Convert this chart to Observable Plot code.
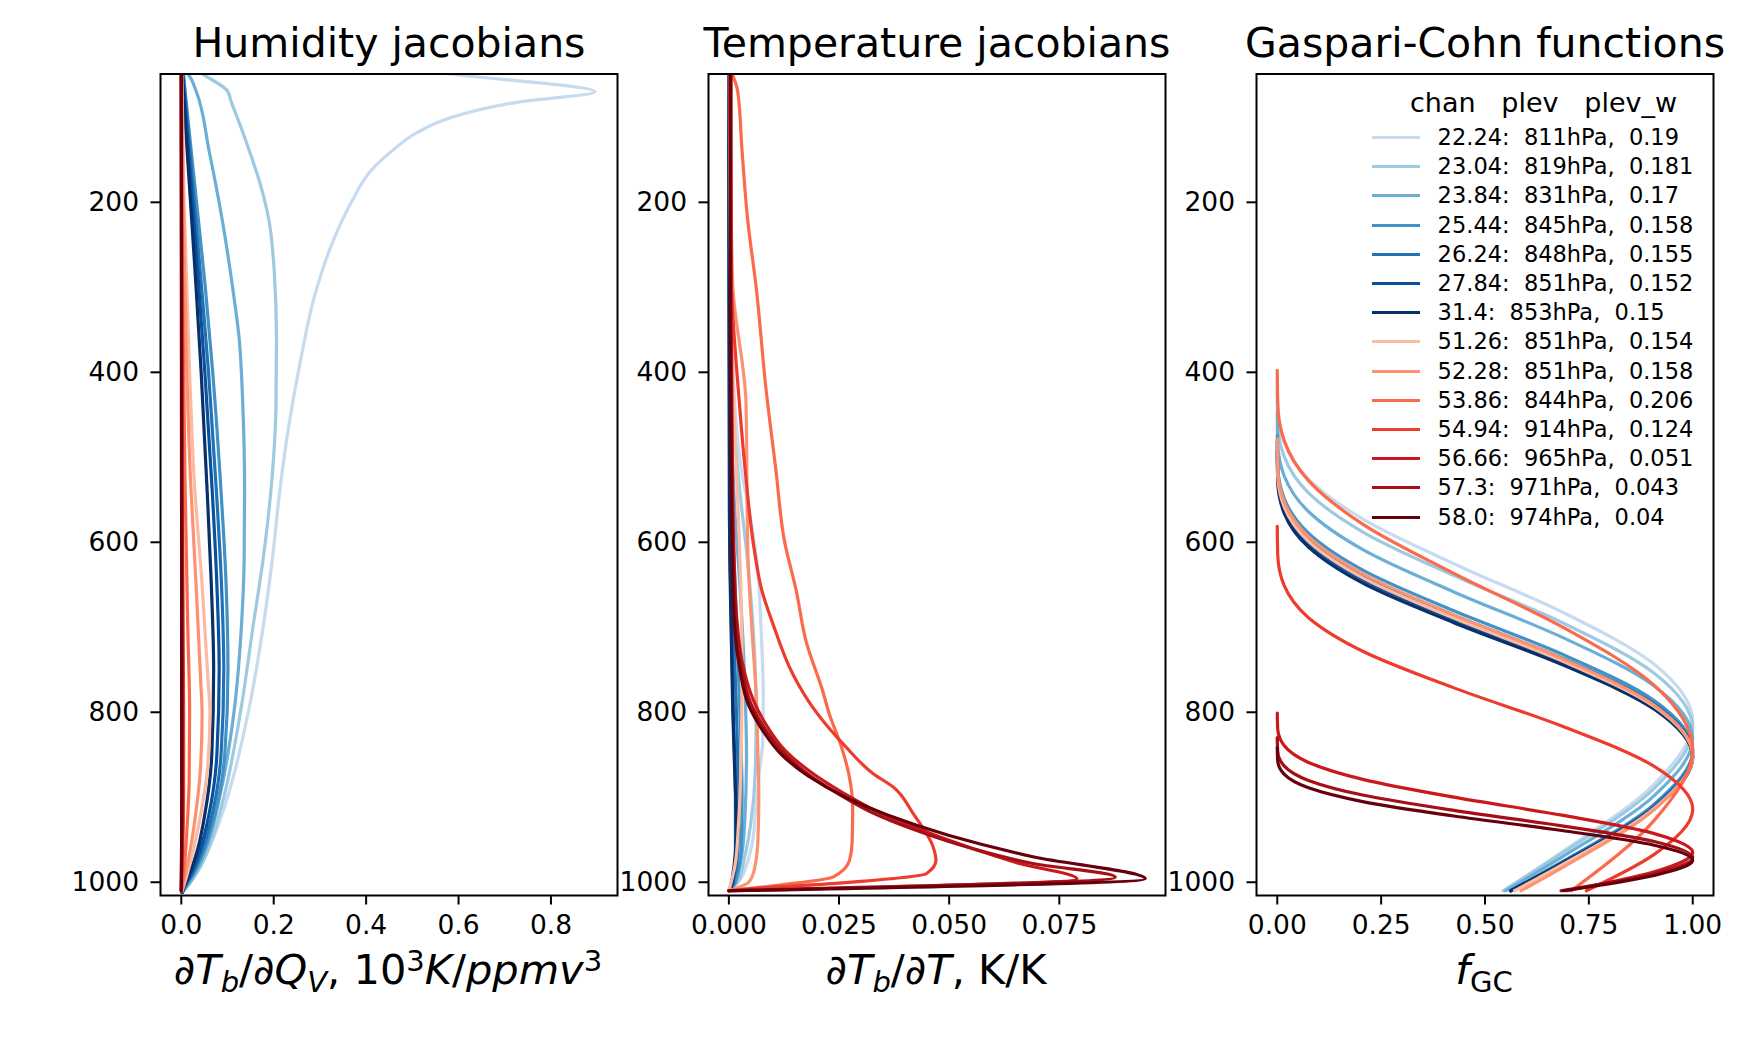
<!DOCTYPE html>
<html>
<head>
<meta charset="utf-8">
<script src="https://cdn.jsdelivr.net/npm/d3@7"></script>
<script src="https://cdn.jsdelivr.net/npm/@observablehq/plot@0.6"></script>
<style>
  html, body { margin: 0; padding: 0; background: #fff; }
  #root { position: relative; width: 1755px; height: 1037px; overflow: hidden; font-family: "DejaVu Sans", sans-serif; color: #000; }
  .panel { position: absolute; top: 0; }
  .xlabel { position: absolute; font-size: 41.5px; line-height: 1; white-space: nowrap; transform: translateX(-50%); }
  .xlabel .sub { font-size: 0.7em; position: relative; top: 0.28em; }
  .xlabel .sup { font-size: 0.7em; position: relative; top: -0.45em; }
  .legend-title { position: absolute; font-size: 27px; line-height: 1; white-space: pre; }
  .legend-row { position: absolute; height: 22px; line-height: 22px; font-size: 22.5px; white-space: pre; }
  .legend-row .sw { position: absolute; left: 0; top: 10px; width: 48px; height: 3px; }
  .legend-row .tx { position: absolute; left: 65.6px; top: 0; }
</style>
</head>
<body>
<div id="root"></div>
<script>
// ---------- data ----------
const channels = ["22.24","23.04","23.84","25.44","26.24","27.84","31.4","51.26","52.28","53.86","54.94","56.66","57.3","58.0"];
const plevHpa = [811, 819, 831, 845, 848, 851, 853, 851, 851, 844, 914, 965, 971, 974];
const plevWidth = ["0.19","0.181","0.17","0.158","0.155","0.152","0.15","0.154","0.158","0.206","0.124","0.051","0.043","0.04"];
const channelColors = ["#c6dbef","#9ecae1","#6baed6","#4292c6","#2171b5","#08519c","#08306b",
                       "#fcbba1","#fc9272","#fb6a4a","#ef3b2c","#cb181d","#a50f15","#67000d"];

const panelTitles = ["Humidity jacobians", "Temperature jacobians", "Gaspari-Cohn functions"];
const pressureTicks = [200, 400, 600, 800, 1000];
const humidityTicks = [0, 0.2, 0.4, 0.6, 0.8];
const temperatureTicks = [0, 0.025, 0.05, 0.075];
const gcTicks = [0, 0.25, 0.5, 0.75, 1];

// humidity jacobians: [pressure hPa, dTb/dQv]
const humidityJacobians = [
  [[40,0.443],[49,0.58],[70,0.895],[82,0.73],[100,0.585],[118,0.51],[140,0.455],[163,0.41],[200,0.368],[237,0.335],[307,0.29],[386,0.258],[465,0.232],[540,0.213],[620,0.197],[700,0.177],[800,0.145],[900,0.1],[950,0.068],[980,0.043],[1000,0.02],[1012,0.002]],
  [[40,0.022],[49,0.046],[69,0.10],[80,0.107],[110,0.128],[139,0.147],[175,0.169],[222,0.19],[280,0.201],[360,0.206],[437,0.205],[539,0.194],[620,0.177],[700,0.155],[800,0.128],[900,0.092],[950,0.066],[980,0.043],[1000,0.02],[1012,0.002]],
  [[45,0.008],[51,0.017],[69,0.032],[139,0.06],[222,0.089],[300,0.111],[359,0.125],[437,0.133],[539,0.137],[620,0.136],[700,0.13],[800,0.114],[900,0.083],[950,0.06],[980,0.039],[1000,0.018],[1012,0.002]],
  [[45,0.004],[100,0.014],[200,0.033],[300,0.052],[400,0.068],[540,0.086],[650,0.097],[750,0.101],[850,0.094],[920,0.073],[960,0.051],[990,0.026],[1005,0.009],[1012,0.002]],
  [[45,0.003],[100,0.012],[200,0.028],[300,0.044],[400,0.059],[540,0.076],[650,0.087],[750,0.092],[850,0.086],[920,0.067],[960,0.047],[990,0.024],[1005,0.008],[1012,0.002]],
  [[45,0.002],[100,0.01],[200,0.024],[300,0.038],[400,0.051],[540,0.067],[650,0.077],[750,0.082],[850,0.077],[920,0.06],[960,0.042],[990,0.021],[1005,0.007],[1012,0.002]],
  [[45,0.002],[100,0.008],[200,0.02],[300,0.032],[400,0.043],[540,0.056],[650,0.065],[750,0.07],[850,0.066],[920,0.051],[960,0.036],[990,0.018],[1005,0.006],[1012,0.001]],
  [[45,0.001],[200,0.006],[400,0.018],[527,0.028],[650,0.045],[763,0.058],[802,0.062],[870,0.056],[920,0.042],[960,0.027],[990,0.013],[1010,0.002]],
  [[45,0],[200,0.004],[400,0.012],[527,0.02],[650,0.032],[763,0.042],[802,0.045],[870,0.041],[920,0.031],[960,0.02],[990,0.009],[1010,0.001]],
  [[45,0],[300,0.003],[527,0.008],[700,0.014],[800,0.018],[880,0.017],[940,0.012],[990,0.005],[1010,0]],
  [[45,0],[527,0.002],[800,0.005],[900,0.005],[980,0.002],[1010,0]],
  [[45,0],[800,0.002],[900,0.002],[1010,0]],
  [[45,0],[800,0.001],[900,0.0015],[1010,0]],
  [[45,0],[800,0.001],[900,0.001],[1010,0]]
];

// temperature jacobians: [pressure hPa, dTb/dT]
const temperatureJacobians = [
  [[45,0],[300,0.0005],[450,0.0015],[520,0.003],[560,0.0045],[620,0.0063],[700,0.0073],[780,0.0078],[833,0.0077],[872,0.0069],[920,0.006],[951,0.0054],[980,0.004],[998,0.0024],[1010,0]],
  [[45,0],[300,0.0003],[450,0.001],[540,0.0025],[620,0.0042],[700,0.0055],[800,0.0062],[870,0.006],[930,0.005],[970,0.0036],[1000,0.002],[1010,0]],
  [[45,0],[400,0.0003],[550,0.0012],[650,0.0025],[750,0.0035],[850,0.004],[930,0.0036],[980,0.0025],[1010,0]],
  [[45,0],[450,0.0002],[600,0.001],[700,0.0018],[800,0.0025],[900,0.003],[960,0.0028],[1000,0.0015],[1010,0]],
  [[45,0],[500,0.0002],[650,0.0008],[750,0.0014],[850,0.002],[930,0.0022],[980,0.0018],[1010,0]],
  [[45,0],[550,0.0001],[700,0.0006],[800,0.001],[900,0.0015],[960,0.0015],[1000,0.001],[1010,0]],
  [[45,0],[600,0.0002],[700,0.0005],[800,0.0009],[880,0.0014],[940,0.0018],[980,0.0012],[1010,0.0003]],
  [[45,0.0001],[300,0.0004],[450,0.0012],[550,0.002],[650,0.0027],[750,0.003],[850,0.0028],[930,0.0022],[980,0.0014],[1010,0]],
  [[45,0.0002],[200,0.0005],[298,0.0009],[437,0.0039],[610,0.0043],[700,0.0052],[780,0.0062],[850,0.0066],[900,0.0068],[950,0.0066],[985,0.0058],[1000,0.0045],[1010,0]],
  [[45,0.0004],[69,0.002],[140,0.003],[222,0.0043],[300,0.0062],[418,0.0084],[516,0.0107],[598,0.0126],[657,0.0153],[716,0.0175],[775,0.0213],[802,0.0228],[840,0.0255],[872,0.0272],[912,0.0281],[951,0.028],[974,0.0274],[994,0.0236],[1003,0.012],[1010,0]],
  [[45,0.0002],[280,0.0005],[437,0.0024],[520,0.0038],[610,0.0058],[657,0.0075],[696,0.010],[755,0.0145],[794,0.019],[841,0.0266],[872,0.0327],[888,0.0373],[919,0.0418],[959,0.0464],[974,0.047],[990,0.0448],[1001,0.025],[1008,0.004],[1010,0]],
  [[45,0.0005],[300,0.0005],[500,0.0008],[620,0.0012],[690,0.0018],[740,0.003],[785,0.0055],[815,0.0085],[845,0.0128],[870,0.0185],[895,0.026],[915,0.033],[935,0.042],[958,0.054],[978,0.066],[996,0.079],[1010,0]],
  [[45,0.0004],[300,0.0004],[500,0.0006],[620,0.001],[690,0.0016],[745,0.0028],[790,0.005],[818,0.008],[848,0.0125],[873,0.018],[898,0.0255],[918,0.0325],[938,0.042],[960,0.055],[978,0.069],[994,0.0877],[1010,0]],
  [[45,0.0003],[300,0.0003],[500,0.0005],[620,0.0008],[700,0.0013],[750,0.0025],[792,0.0045],[820,0.0075],[850,0.012],[875,0.018],[900,0.0265],[921,0.036],[945,0.05],[970,0.069],[996,0.0945],[1010,0]]
];

// Gaspari-Cohn localisation functions: [pressure hPa, f_GC]
const gaspariCohn = [
  [[405.3,0],[442.0,0.0011],[482.0,0.0165],[525.7,0.0751],[573.3,0.2083],[625.2,0.425],[681.9,0.6849],[743.6,0.9073],[811,1],[884.5,0.9073],[964.6,0.6849],[1010,0.546]],
  [[422.9,0],[459.3,0.0011],[498.9,0.0165],[541.9,0.0751],[588.5,0.2083],[639.2,0.425],[694.3,0.6849],[754.1,0.9073],[819,1],[889.5,0.9073],[966.1,0.6849],[1010,0.544]],
  [[446.7,0],[482.7,0.0011],[521.7,0.0165],[563.8,0.0751],[609.3,0.2083],[658.4,0.425],[711.6,0.6849],[769.0,0.9073],[831,1],[898.0,0.9073],[970.5,0.6849],[1010,0.550]],
  [[474.6,0],[510.1,0.0011],[548.2,0.0165],[589.2,0.0751],[633.3,0.2083],[680.6,0.425],[731.5,0.6849],[786.2,0.9073],[845,1],[908.2,0.9073],[976.1,0.6849],[1010,0.561]],
  [[481.5,0],[516.8,0.0011],[554.7,0.0165],[595.4,0.0751],[639.0,0.2083],[685.8,0.425],[736.1,0.6849],[790.1,0.9073],[848,1],[910.2,0.9073],[976.9,0.6849],[1010,0.562]],
  [[488.5,0],[523.6,0.0011],[561.2,0.0165],[601.6,0.0751],[644.8,0.2083],[691.1,0.425],[740.7,0.6849],[794.0,0.9073],[851,1],[912.1,0.9073],[977.7,0.6849],[1010,0.562]],
  [[493.3,0],[528.2,0.0011],[565.6,0.0165],[605.7,0.0751],[648.7,0.2083],[694.6,0.425],[743.8,0.6849],[796.5,0.9073],[853,1],[913.5,0.9073],[978.2,0.6849],[1010,0.5625]],
  [[485.0,0],[520.3,0.0011],[558.2,0.0165],[598.8,0.0751],[642.4,0.2083],[689.2,0.425],[739.4,0.6849],[793.2,0.9073],[851,1],[913.0,0.9073],[979.5,0.6849],[1010,0.571]],
  [[477.9,0],[513.7,0.0011],[552.1,0.0165],[593.4,0.0751],[637.8,0.2083],[685.4,0.425],[736.7,0.6849],[791.8,0.9073],[851,1],[914.6,0.9073],[983.0,0.6849],[1010,0.587]],
  [[397.8,0],[437.0,0.0011],[480.1,0.0165],[527.5,0.0751],[579.5,0.2083],[636.6,0.425],[699.3,0.6849],[768.3,0.9073],[844,1],[927.2,0.9073],[1010,0.708]],
  [[581.2,0],[615.0,0.0011],[650.8,0.0165],[688.7,0.0751],[728.8,0.2083],[771.3,0.425],[816.2,0.6849],[863.7,0.9073],[914,1],[967.2,0.9073],[1010,0.744]],
  [[801.0,0],[819.9,0.0011],[839.2,0.0165],[859.0,0.0751],[879.2,0.2083],[899.9,0.425],[921.1,0.6849],[942.8,0.9073],[965,1],[987.7,0.9073],[1010,0.696]],
  [[829.9,0],[846.4,0.0011],[863.1,0.0165],[880.2,0.0751],[897.7,0.2083],[915.5,0.425],[933.6,0.6849],[952.1,0.9073],[971,1],[990.2,0.9073],[1010,0.683]],
  [[841.6,0],[857.1,0.0011],[872.9,0.0165],[888.9,0.0751],[905.4,0.2083],[922.1,0.425],[939.1,0.6849],[956.4,0.9073],[974,1],[992.0,0.9073],[1010,0.688]]
];

// ---------- layout ----------
const FRAME_TOP = 73.5, FRAME_H = 821.5, FRAME_W = 457;
const frameLefts = [159.5, 707.5, 1255.5];
const ML = 100, MR = 10, MB = 80;
const yDomain = [1015.6, 49];

const toRows = profiles => profiles.flatMap((pts, i) => pts.map(([p, v]) => ({chan: channels[i], p, v})));

const root = document.getElementById("root");

function makePanel(i, profiles, xDomain, xTicks, xFmt) {
  const chart = Plot.plot({
    width: ML + FRAME_W + MR,
    height: FRAME_TOP + FRAME_H + MB,
    marginLeft: ML, marginRight: MR, marginTop: FRAME_TOP, marginBottom: MB,
    style: {background: "transparent", fontFamily: "DejaVu Sans", fontSize: "26.5px", color: "black", overflow: "visible"},
    x: {domain: xDomain},
    y: {domain: yDomain},
    color: {domain: channels, range: channelColors},
    marks: [
      Plot.line(toRows(profiles), {x: "v", y: "p", z: "chan", stroke: "chan", strokeWidth: 3.2, curve: "monotone-y", clip: true}),
      Plot.frame({stroke: "black", strokeWidth: 2}),
      Plot.axisX({ticks: xTicks, tickFormat: xFmt, tickSize: 9.5, tickPadding: 10, strokeWidth: 2, label: null, fontSize: 26.5}),
      Plot.axisY({ticks: pressureTicks, tickFormat: d3.format("d"), tickSize: 9.5, tickPadding: 12, strokeWidth: 2, label: null, fontSize: 26.5}),
      Plot.text([panelTitles[i]], {frameAnchor: "top", text: d => d, dy: -17.5, lineAnchor: "bottom", fontSize: 41})
    ]
  });
  chart.classList.add("panel");
  chart.style.left = (frameLefts[i] - ML) + "px";
  root.appendChild(chart);
}

makePanel(0, humidityJacobians, [-0.045, 0.944], humidityTicks, d3.format(".1f"));
makePanel(1, temperatureJacobians, [-0.00462, 0.0991], temperatureTicks, d3.format(".3f"));
makePanel(2, gaspariCohn, [-0.05, 1.05], gcTicks, d3.format(".2f"));

// ---------- axis labels ----------
const labels = [
  '<i>∂T</i><span class="sub"><i>b</i></span>/<i>∂Q</i><span class="sub"><i>V</i></span>, 10<span class="sup">3</span><i>K</i>/<i>ppmv</i><span class="sup">3</span>',
  '<i>∂T</i><span class="sub"><i>b</i></span>/<i>∂T</i>, K/K',
  '<i>f</i><span class="sub">GC</span>'
];
labels.forEach((html, i) => {
  const d = document.createElement("div");
  d.className = "xlabel";
  d.innerHTML = html;
  d.style.left = (frameLefts[i] + FRAME_W / 2) + "px";
  d.style.top = "949px";
  root.appendChild(d);
});

// ---------- legend ----------
const lt = document.createElement("div");
lt.className = "legend-title";
lt.textContent = "chan   plev   plev_w";
lt.style.left = "1410px";
lt.style.top = "89px";
root.appendChild(lt);
channels.forEach((c, i) => {
  const row = document.createElement("div");
  row.className = "legend-row";
  row.style.left = "1372px";
  row.style.top = Math.round(126 + i * 29.2) + "px";
  const sw = document.createElement("span");
  sw.className = "sw";
  sw.style.background = channelColors[i];
  const tx = document.createElement("span");
  tx.className = "tx";
  tx.textContent = `${c}:  ${plevHpa[i]}hPa,  ${plevWidth[i]}`;
  row.appendChild(sw);
  row.appendChild(tx);
  root.appendChild(row);
});
</script>
</body>
</html>
